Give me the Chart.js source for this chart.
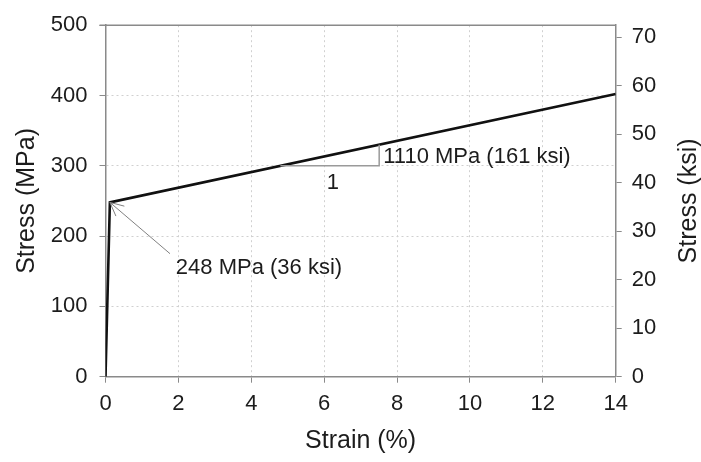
<!DOCTYPE html>
<html>
<head>
<meta charset="utf-8">
<script src="https://cdn.jsdelivr.net/npm/chart.js@4"></script>
<style>
html,body{margin:0;padding:0;background:#fff;}
#wrap{width:701px;height:462px;position:relative;}
</style>
</head>
<body>
<div id="wrap"><canvas id="c" width="701" height="462"></canvas></div>
<script>
// Data
const strain = [0, 0.12, 14];          // %
const stress = [0, 248, 402];          // MPa
const xTicks = [0, 2, 4, 6, 8, 10, 12, 14];
const mpaTicks = [0, 100, 200, 300, 400, 500];
const ksiTicks = [0, 10, 20, 30, 40, 50, 60, 70];
const MPA_PER_KSI = 6.895;
// Annotation anchors (data coords)
const slopeRunX = [4.80, 7.51];
const slopeBaseY = 300;
const slopeTopY = 330;
const arrowFrom = [1.77, 175];
const arrowTo = [0.12, 248];
const labels = [
  {text: '1', x: 6.24, y: 275, align: 'center'},
  {text: '1110 MPa (161 ksi)', x: 7.62, y: 313, align: 'left'},
  {text: '248 MPa (36 ksi)', x: 1.93, y: 155, align: 'left'}
];
const rightTitle = 'Stress (ksi)';

const FONT = 'Liberation Sans, Arial, sans-serif';
const TXT = '#1c1c1c';
const AX = '#8a8a8a';
const GRID = '#d0d0d0';

const annot = {
  id: 'annot',
  afterDatasetsDraw(chart) {
    const ctx = chart.ctx, x = chart.scales.x, y = chart.scales.y;
    const ca = chart.chartArea;
    ctx.save();
    // top frame line
    ctx.strokeStyle = AX; ctx.lineWidth = 1.5;
    ctx.beginPath(); ctx.moveTo(ca.left - 6, ca.top); ctx.lineTo(ca.right, ca.top); ctx.stroke();
    // slope triangle
    ctx.strokeStyle = '#9a9a9a'; ctx.lineWidth = 1.5;
    ctx.beginPath();
    ctx.moveTo(x.getPixelForValue(slopeRunX[0]), y.getPixelForValue(slopeBaseY));
    ctx.lineTo(x.getPixelForValue(slopeRunX[1]), y.getPixelForValue(slopeBaseY));
    ctx.lineTo(x.getPixelForValue(slopeRunX[1]), y.getPixelForValue(slopeTopY));
    ctx.stroke();
    // arrow
    const x0 = x.getPixelForValue(arrowFrom[0]), y0 = y.getPixelForValue(arrowFrom[1]);
    const x1 = x.getPixelForValue(arrowTo[0]), y1 = y.getPixelForValue(arrowTo[1]);
    ctx.strokeStyle = '#808080'; ctx.lineWidth = 1;
    ctx.beginPath(); ctx.moveTo(x0, y0); ctx.lineTo(x1, y1); ctx.stroke();
    const ang = Math.atan2(y0 - y1, x0 - x1);
    const L = 15, W = 0.45;
    ctx.beginPath();
    ctx.moveTo(x1 + L * Math.cos(ang - W), y1 + L * Math.sin(ang - W));
    ctx.lineTo(x1, y1);
    ctx.lineTo(x1 + L * Math.cos(ang + W), y1 + L * Math.sin(ang + W));
    ctx.stroke();
    // labels
    ctx.fillStyle = TXT;
    ctx.font = '22px ' + FONT;
    ctx.textBaseline = 'middle';
    labels.forEach(l => {
      ctx.textAlign = l.align;
      ctx.fillText(l.text, x.getPixelForValue(l.x), y.getPixelForValue(l.y));
    });
    // right axis title, reading bottom-to-top
    ctx.font = '25px ' + FONT;
    ctx.textAlign = 'center';
    ctx.translate(chart.width - 12, (ca.top + ca.bottom) / 2);
    ctx.rotate(-Math.PI / 2);
    ctx.fillText(rightTitle, 0, 0);
    ctx.restore();
  }
};

const gridColorInner = (ctx) => {
  if (!ctx.tick) return GRID;
  return (ctx.index === 0 || ctx.index === ctx.scale.ticks.length - 1) ? 'rgba(0,0,0,0)' : GRID;
};

new Chart(document.getElementById('c'), {
  type: 'scatter',
  data: {
    datasets: [{
      data: strain.map((s, i) => ({x: s, y: stress[i]})),
      showLine: true,
      borderColor: '#111',
      borderWidth: 2.6,
      pointRadius: 0,
      tension: 0
    }]
  },
  options: {
    responsive: false,
    animation: false,
    events: [],
    layout: {padding: {top: 20, left: 0, right: 0, bottom: 0}},
    plugins: {legend: {display: false}, tooltip: {enabled: false}},
    scales: {
      x: {
        type: 'linear', min: 0, max: 14,
        afterBuildTicks: s => { s.ticks = xTicks.map(v => ({value: v})); },
        afterFit: s => { s.height = 85.3; },
        grid: {color: gridColorInner, lineWidth: 1, tickColor: AX, tickLength: 6, drawTicks: true},
        border: {color: AX, width: 1.5, dash: [2, 3]},
        ticks: {color: TXT, font: {family: FONT, size: 22}, padding: 8, maxRotation: 0},
        title: {display: true, text: 'Strain (%)', color: TXT, font: {family: FONT, size: 25}, padding: {top: 0, bottom: 6}}
      },
      y: {
        type: 'linear', position: 'left', min: 0, max: 500,
        afterBuildTicks: s => { s.ticks = mpaTicks.map(v => ({value: v})); },
        afterFit: s => { s.width = 105.5; },
        grid: {color: gridColorInner, lineWidth: 1, tickColor: AX, tickLength: 6, drawTicks: true},
        border: {color: AX, width: 1.5, dash: [2, 3]},
        ticks: {color: TXT, font: {family: FONT, size: 22}, padding: 12},
        title: {display: true, text: 'Stress (MPa)', color: TXT, font: {family: FONT, size: 25}, padding: {top: 12, bottom: 0}}
      },
      y2: {
        type: 'linear', position: 'right', min: 0, max: 500 / MPA_PER_KSI,
        afterBuildTicks: s => { s.ticks = ksiTicks.map(v => ({value: v})); },
        afterFit: s => { s.width = 85.3; },
        grid: {drawOnChartArea: false, tickColor: AX, tickLength: 6, drawTicks: true},
        border: {color: AX, width: 1.5},
        ticks: {color: TXT, font: {family: FONT, size: 22}, padding: 10},
        title: {display: false}
      }
    }
  },
  plugins: [annot]
});
</script>
</body>
</html>
